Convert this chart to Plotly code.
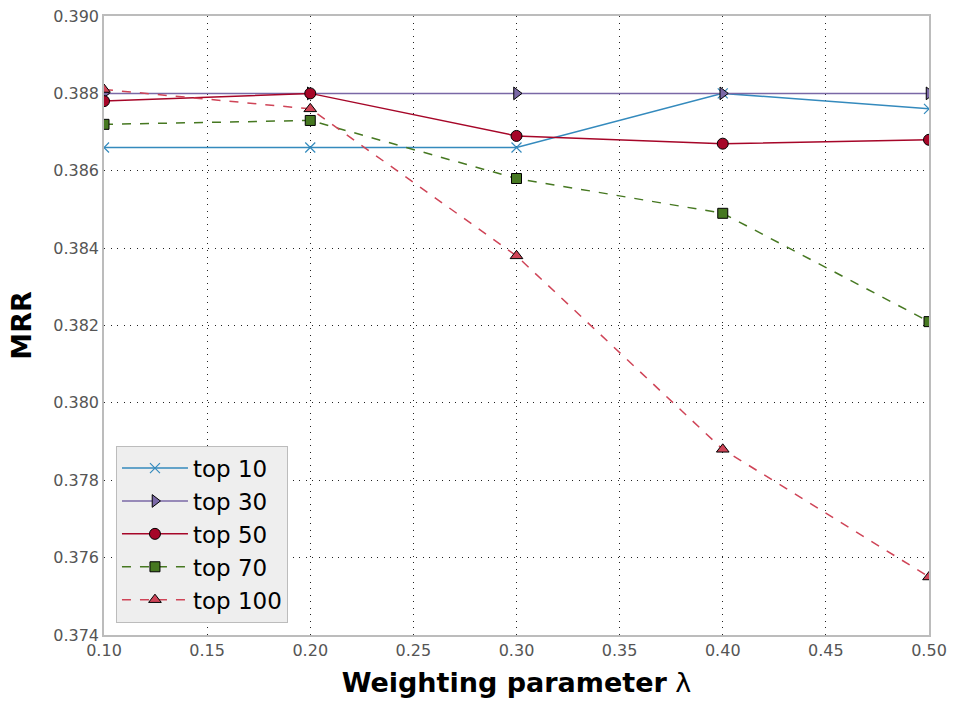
import plotly.graph_objects as go

lambdas = [0.1, 0.2, 0.3, 0.4, 0.5]
top10 = [0.3866, 0.3866, 0.3866, 0.3880, 0.3876]
top30 = [0.3880, 0.3880, 0.3880, 0.3880, 0.3880]
top50 = [0.3878, 0.3880, 0.3869, 0.3867, 0.3868]
top70 = [0.3872, 0.3873, 0.3858, 0.3849, 0.3821]
top100 = [0.3881, 0.3876, 0.3838, 0.3788, 0.3755]

series = [
    ("top 10", top10, "#348ABD", "x-thin-open", "solid", 10),
    ("top 30", top30, "#7A68A6", "triangle-right", "solid", 11),
    ("top 50", top50, "#A60628", "circle", "solid", 11),
    ("top 70", top70, "#467821", "square", "dash", 10),
    ("top 100", top100, "#CF4457", "triangle-up", "dash", 11),
]

fig = go.Figure()
for name, vals, color, sym, dash, size in series:
    if sym == "x-thin-open":
        marker = dict(symbol=sym, size=size, color=color, line=dict(color=color, width=1.2))
    else:
        marker = dict(symbol=sym, size=size, color=color, line=dict(color="black", width=1))
    fig.add_trace(go.Scatter(
        x=lambdas, y=vals, name=name, mode="lines+markers",
        line=dict(color=color, width=1.5, dash=dash),
        marker=marker,
    ))

axis_common = dict(
    showgrid=True, gridcolor="#222222", griddash="1px,5.5px", gridwidth=1,
    showline=True, linecolor="#bcbcbc", linewidth=1.5, mirror=True,
    zeroline=False, ticks="", automargin=False,
    tickfont=dict(family="DejaVu Sans", size=16, color="#555555"),
)

fig.update_layout(
    width=953, height=702,
    margin=dict(l=104, r=24, t=16, b=67),
    paper_bgcolor="white", plot_bgcolor="white",
    xaxis=dict(range=[0.1, 0.5], tickmode="array",
               tickvals=[0.1, 0.15, 0.2, 0.25, 0.3, 0.35, 0.4, 0.45, 0.5],
               tickformat=".2f",
               title=dict(text="<b>Weighting parameter</b> λ", standoff=14,
                          font=dict(family="DejaVu Sans", size=27, color="black")),
               **axis_common),
    yaxis=dict(range=[0.374, 0.390], tickmode="array",
               tickvals=[0.374 + 0.002 * i for i in range(9)],
               tickformat=".3f",
               title=dict(text="<b>MRR</b>", standoff=14,
                          font=dict(family="DejaVu Sans", size=27, color="black")),
               **axis_common),
    legend=dict(x=0.0145, y=0.02, xanchor="left", yanchor="bottom",
                bgcolor="#eeeeee", bordercolor="#bcbcbc", borderwidth=1,
                font=dict(family="DejaVu Sans", size=23, color="black"),
                itemwidth=66),
    showlegend=True,
)

fig.write_html("out.html")
